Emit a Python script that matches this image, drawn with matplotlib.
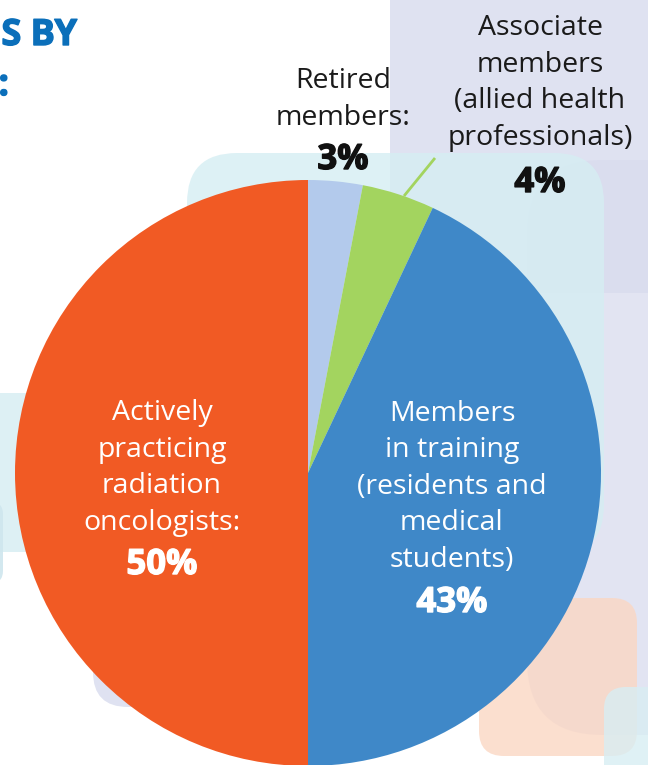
import matplotlib
matplotlib.use("Agg")
import matplotlib.pyplot as plt
from matplotlib.patches import FancyBboxPatch
import matplotlib.patheffects as pe

# ---- data ----
categories = ["Retired members", "Associate members (allied health professionals)",
              "Members in training (residents and medical students)",
              "Actively practicing radiation oncologists"]
shares = [3, 4, 43, 50]
slice_colors = ["#b3caec", "#a3d45f", "#3f88c8", "#f15a24"]

label_retired = "Retired\nmembers:"
label_assoc = "Associate\nmembers\n(allied health\nprofessionals)"
label_training = "Members\nin training\n(residents and\nmedical\nstudents)"
label_active = "Actively\npracticing\nradiation\noncologists:"
pct_labels = [f"{v}%" for v in shares]

W, H = 648, 765
fig = plt.figure(figsize=(W / 100, H / 100), dpi=100)
ax = fig.add_axes([0, 0, 1, 1])

def Y(y):  # pixel-from-top to data y
    return H - y

def rrect(x0, y0, x1, y1, r, color, alpha=1.0, z=0):
    p = FancyBboxPatch((x0 + r, Y(y1) + r), (x1 - x0) - 2 * r, (y1 - y0) - 2 * r,
                       boxstyle=f"round,pad={r}", fc=color, ec="none",
                       alpha=alpha, zorder=z)
    ax.add_patch(p)

# background decorative shapes
rrect(390, -200, 700, 293, 1, "#dfe2f1", 1.0, 0.1)
rrect(527, 160, 760, 735, 75, "#d9dcee", 0.75, 0.2)
rrect(187, 153, 604, 555, 50, "#d5eef3", 0.8, 0.3)
rrect(-100, 393, 150, 552, 20, "#daeff3", 0.9, 0.3)
rrect(-100, 502, 3, 583, 12, "#cfe6ee", 0.9, 0.35)
rrect(93, 560, 300, 707, 35, "#dfe2f1", 1.0, 0.3)
rrect(479, 598, 637, 756, 25, "#fbd7c3", 0.8, 0.4)
rrect(604, 687, 760, 900, 22, "#d8eef3", 0.8, 0.5)

# pie
wedges, _ = ax.pie(shares, colors=slice_colors, startangle=90, counterclock=False,
                   center=(308, Y(473)), radius=293,
                   wedgeprops=dict(linewidth=0, zorder=2))
for w in wedges:
    w.set_zorder(2)

ax.set_xlim(0, W)
ax.set_ylim(0, H)
ax.set_aspect("equal")
ax.set_axis_off()

# leader line for associate
ax.plot([404, 435], [Y(196), Y(158)], color="#a3d45f", lw=2, zorder=3,
        solid_capstyle="butt")

FONT = ["Open Sans", "DejaVu Sans"]
reg = dict(family=FONT, fontsize=20.5, linespacing=1.41, zorder=4)

def heavy(color, size=25, lw=1.0):
    return dict(family=FONT, fontsize=size, fontweight="bold", zorder=4, color=color,
                path_effects=[pe.withStroke(linewidth=lw, foreground=color)])

# title fragments
ax.text(77, Y(45), "S BY", ha="right", va="baseline", **heavy("#0b6fba", 26, 1.0))
ax.text(9, Y(95), ":", ha="right", va="baseline", **heavy("#0b6fba", 26, 1.0))

ax.text(343, Y(125), label_retired, ha="center", va="baseline", color="#1a1a1a", **reg)
ax.text(343, Y(169), pct_labels[0], ha="center", va="baseline", **heavy("#111111"))

ax.text(540, Y(145), label_assoc, ha="center", va="baseline", color="#1a1a1a", **reg)
ax.text(540, Y(192), pct_labels[1], ha="center", va="baseline", **heavy("#111111"))

ax.text(452, Y(567), label_training, ha="center", va="baseline", color="white", **reg)
ax.text(452, Y(612), pct_labels[2], ha="center", va="baseline", **heavy("white"))

ax.text(162, Y(530), label_active, ha="center", va="baseline", color="white", **reg)
ax.text(162, Y(574), pct_labels[3], ha="center", va="baseline", **heavy("white"))

fig.savefig("out.png", dpi=100)
